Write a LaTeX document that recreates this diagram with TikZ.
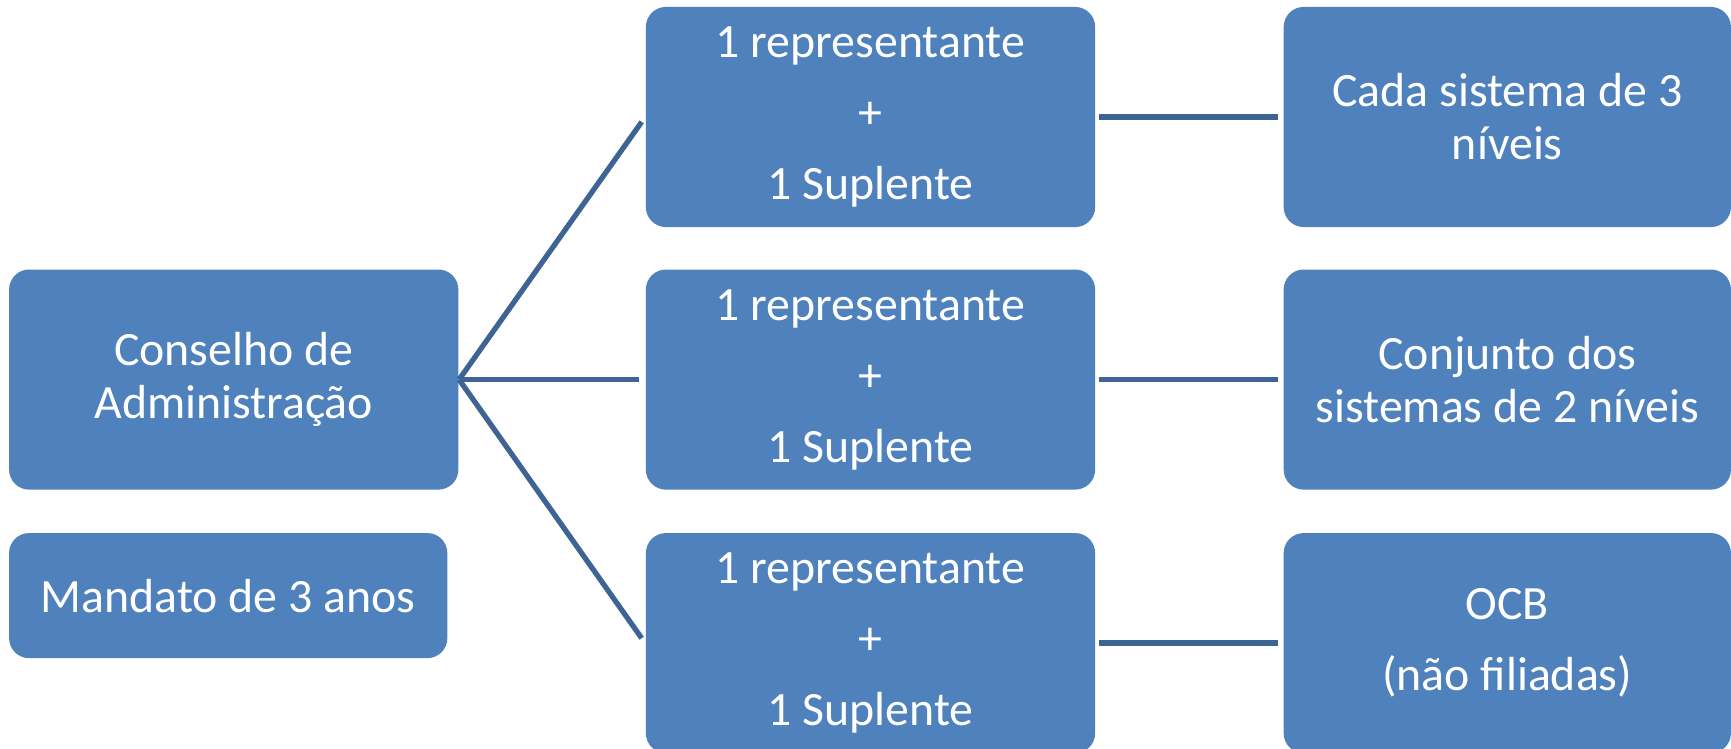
\documentclass[tikz,border=0pt]{standalone}
\usepackage{fontspec}
\setmainfont{Carlito}
\usetikzlibrary{positioning}
\definecolor{caixaazul}{RGB}{79,129,189}
\definecolor{eloazul}{RGB}{62,100,148}

\begin{document}
\begin{tikzpicture}[x=0.01cm, y=-0.01cm,
  caixa/.style={rectangle, rounded corners=0.2cm, fill=caixaazul, text=white,
    align=center, inner sep=0pt, minimum width=4.49cm, minimum height=2.2cm,
    font=\fontsize{13.6}{15.1}\selectfont},
  elo/.style={draw=eloazul, line width=1.5pt}]

\useasboundingbox (0,0) rectangle (1731,748);

% Define nodes
\path (870.5,117)
node[caixa] (rep1) {1 representante\\[5.1pt] +\\[5.1pt] 1 Suplente}
node[caixa, below=0.41cm of rep1] (rep2) {1 representante\\[5.1pt] +\\[5.1pt] 1 Suplente}
node[caixa, below=0.42cm of rep2] (rep3) {1 representante\\[5.1pt] +\\[5.1pt] 1 Suplente}
node[caixa, left=1.86cm of rep2] (conselho) {Conselho de\\Administração}
node[caixa, below=0.42cm of conselho.south west, anchor=north west,
  minimum width=4.38cm, minimum height=1.25cm] (mandato) {Mandato de 3 anos}
node[caixa, right=1.87cm of rep1, minimum width=4.47cm] (nivel3) {Cada sistema de 3\\níveis}
node[caixa, right=1.87cm of rep2, minimum width=4.47cm] (nivel2) {Conjunto dos\\sistemas de 2 níveis}
node[caixa, right=1.87cm of rep3, minimum width=4.47cm] (ocb) {OCB\\[5.1pt](não filiadas)}
;

% Connectors
\foreach \r in {rep1, rep2, rep3}
  \draw[elo, shorten >=0.06cm] (conselho.east) -- (\r.west);
\draw[elo, shorten <=0.03cm, shorten >=0.05cm] (rep1) -- (nivel3);
\draw[elo, shorten <=0.03cm, shorten >=0.05cm] (rep2) -- (nivel2);
\draw[elo, shorten <=0.03cm, shorten >=0.05cm] (rep3) -- (ocb);

\end{tikzpicture}
\end{document}
